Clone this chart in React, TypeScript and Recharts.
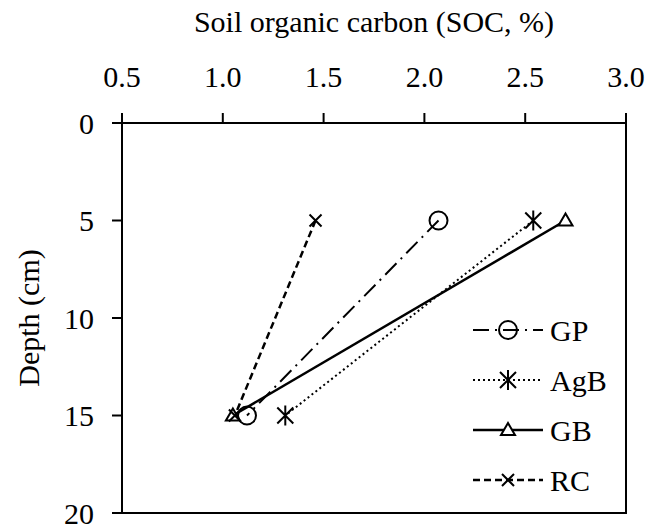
import React from "react";
import { Label, Legend, Line, LineChart, ReferenceArea, XAxis, YAxis } from "recharts";

const depths = [5, 15];
const gpSoc = [2.07, 1.12];
const agbSoc = [2.54, 1.31];
const gbSoc = [2.7, 1.05];
const rcSoc = [1.46, 1.06];
const socTicks = [0.5, 1.0, 1.5, 2.0, 2.5, 3.0];
const depthTicks = [0, 5, 10, 15, 20];

const data = depths.map((depth, i) => ({
  depth,
  GP: gpSoc[i],
  AgB: agbSoc[i],
  GB: gbSoc[i],
  RC: rcSoc[i],
}));

const FONT = "'Liberation Serif', 'Times New Roman', serif";

type Shape = "circle" | "star" | "triangle" | "cross";

const series: { key: string; dash?: string; width: number; shape: Shape }[] = [
  { key: "GP", dash: "16 6 2 6", width: 2, shape: "circle" },
  { key: "AgB", dash: "2 3", width: 2, shape: "star" },
  { key: "GB", width: 2.5, shape: "triangle" },
  { key: "RC", dash: "7 4", width: 2.5, shape: "cross" },
];

function Marker({ cx, cy, shape }: { cx: number; cy: number; shape: Shape }) {
  const s = { stroke: "#000", strokeWidth: 2 };
  if (shape === "circle") return <circle cx={cx} cy={cy} r={9} fill="none" {...s} />;
  if (shape === "star")
    return (
      <path
        d={`M${cx},${cy - 10}V${cy + 10}M${cx - 8},${cy - 8}L${cx + 8},${cy + 8}M${cx - 8},${cy + 8}L${cx + 8},${cy - 8}`}
        fill="none"
        {...s}
      />
    );
  if (shape === "triangle")
    return <polygon points={`${cx},${cy - 7} ${cx + 7},${cy + 5} ${cx - 7},${cy + 5}`} fill="#fff" {...s} />;
  return (
    <path d={`M${cx - 6},${cy - 6}L${cx + 6},${cy + 6}M${cx - 6},${cy + 6}L${cx + 6},${cy - 6}`} fill="none" {...s} />
  );
}

// legend rows: line sample with the marker in the middle, name on the right
function LegendBox() {
  return (
    <svg width={180} height={200} style={{ display: "block" }}>
      {series.map((s, i) => {
        const y = 25 + i * 50;
        return (
          <g key={s.key}>
            <line x1={3} x2={73} y1={y} y2={y} stroke="#000" strokeWidth={s.width} strokeDasharray={s.dash} />
            <Marker cx={38} cy={y} shape={s.shape} />
            <text x={80} y={y} dominantBaseline="central" fontSize={30} fontFamily={FONT} fill="#000">
              {s.key}
            </text>
          </g>
        );
      })}
    </svg>
  );
}

const axisStroke = { stroke: "#000", strokeWidth: 2 };
const tickStyle = { fill: "#000", fontSize: 30, fontFamily: FONT };

export default function App() {
  return (
    <div style={{ position: "absolute", left: 0, top: 0 }}>
      <LineChart
        width={651}
        height={531}
        data={data}
        layout="vertical"
        margin={{ top: 0, right: 25, bottom: 18, left: 0 }}
      >
        <XAxis
          type="number"
          orientation="top"
          domain={[0.5, 3]}
          ticks={socTicks}
          tickFormatter={(v: number) => v.toFixed(1)}
          height={123}
          tickSize={10}
          tickMargin={26}
          axisLine={axisStroke}
          tickLine={axisStroke}
          tick={tickStyle}
          allowDataOverflow
        >
          <Label
            value="Soil organic carbon (SOC, %)"
            position="insideTop"
            offset={11}
            style={{ fill: "#000", fontSize: 30, fontFamily: FONT }}
          />
        </XAxis>
        <YAxis
          type="number"
          dataKey="depth"
          domain={[0, 20]}
          ticks={depthTicks}
          width={122}
          tickSize={10}
          tickMargin={18}
          axisLine={axisStroke}
          tickLine={axisStroke}
          tick={tickStyle}
          allowDataOverflow
        >
          <Label
            content={(props: any) => {
              const vb = props.viewBox || { x: 0, y: 123, width: 122, height: 390 };
              const cx = 28;
              const cy = vb.y + vb.height / 2;
              return (
                <text
                  x={cx}
                  y={cy}
                  transform={`rotate(-90, ${cx}, ${cy})`}
                  textAnchor="middle"
                  dominantBaseline="central"
                  fontSize={30}
                  fontFamily={FONT}
                  fill="#000"
                >
                  Depth (cm)
                </text>
              );
            }}
          />
        </YAxis>
        <ReferenceArea x1={0.5} x2={3} y1={0} y2={20} fill="none" stroke="#000" strokeWidth={2} />
        {series.map((s) => (
          <Line
            key={s.key}
            dataKey={s.key}
            type="linear"
            stroke="#000"
            strokeWidth={s.width}
            strokeDasharray={s.dash}
            dot={(p: any) => <Marker key={`${s.key}-${p.index}`} cx={p.cx} cy={p.cy} shape={s.shape} />}
            activeDot={false}
            isAnimationActive={false}
          />
        ))}
        <Legend
          layout="horizontal"
          verticalAlign="middle"
          align="center"
          wrapperStyle={{ left: 470, top: 305, width: 180 }}
          content={() => <LegendBox />}
        />
      </LineChart>
    </div>
  );
}
